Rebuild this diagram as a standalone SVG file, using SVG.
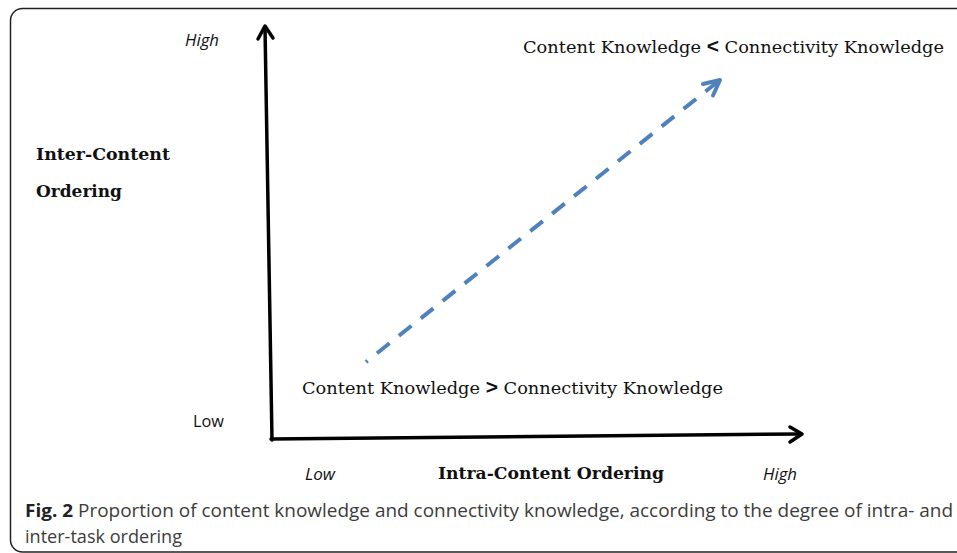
<svg xmlns="http://www.w3.org/2000/svg" width="957" height="553" viewBox="0 0 957 553">
<style>
.serif{font-family:"DejaVu Serif","Liberation Serif",serif;font-size:17px;fill:#111}
.bold{font-family:"DejaVu Serif","Liberation Serif",serif;font-size:17px;font-weight:bold;fill:#111}
.ital{font-family:"Open Sans","Noto Sans",sans-serif;font-size:16px;font-style:italic;fill:#111}
.sans{font-family:"Open Sans","Noto Sans",sans-serif;font-size:16px;fill:#111}
.cap{font-family:"Open Sans","Noto Sans",sans-serif;font-size:18px;fill:#3c3c3c}
.axis{fill:none;stroke:#000;stroke-width:3.5;stroke-linecap:round;stroke-linejoin:round}
.dash{fill:none;stroke:#4F81BD;stroke-width:4}
.head{fill:none;stroke:#4F81BD;stroke-width:4;stroke-linecap:round;stroke-linejoin:round}
.cmp{font-family:"Liberation Sans",sans-serif;font-weight:bold;font-size:20px}
</style>
<rect width="957" height="553" fill="#fff"/>
<rect id="frame" x="10.5" y="8.5" width="1000" height="543.5" rx="12" fill="none" stroke="#222" stroke-width="1.5"/>
<g id="connectors">
  <path class="axis" d="M272,440 L265,27"/>
  <path class="axis" d="M258,39 L265,26 L273,38"/>
  <path class="axis" d="M271,439 L801,434"/>
  <path class="axis" d="M790,427 L802,434 L790,442"/>
  <path class="dash" d="M718,81.5 L366,362" stroke-dasharray="16 12"/>
  <path class="head" d="M703,84 L720,80 L713,95.5"/>
</g>
<g id="y-axis-labels">
  <text class="ital" x="185" y="46" textLength="34" lengthAdjust="spacingAndGlyphs">High</text>
  <text class="bold" x="36" y="160" textLength="134" lengthAdjust="spacingAndGlyphs">Inter-Content</text>
  <text class="bold" x="36" y="197" textLength="86" lengthAdjust="spacingAndGlyphs">Ordering</text>
  <text class="sans" x="193" y="427" textLength="31" lengthAdjust="spacingAndGlyphs">Low</text>
</g>
<g id="x-axis-labels">
  <text class="ital" x="305" y="480" textLength="30" lengthAdjust="spacingAndGlyphs">Low</text>
  <text class="bold" x="438" y="479" textLength="226" lengthAdjust="spacingAndGlyphs">Intra-Content Ordering</text>
  <text class="ital" x="763" y="480" textLength="34" lengthAdjust="spacingAndGlyphs">High</text>
</g>
<g id="label-high">
  <text class="serif" x="523" y="53" textLength="421" lengthAdjust="spacingAndGlyphs">Content Knowledge <tspan class="cmp">&lt;</tspan> Connectivity Knowledge</text>
</g>
<g id="label-low">
  <text class="serif" x="302" y="394" textLength="421" lengthAdjust="spacingAndGlyphs">Content Knowledge <tspan class="cmp">&gt;</tspan> Connectivity Knowledge</text>
</g>
<g id="caption">
  <text class="cap" x="25" y="517" textLength="928" lengthAdjust="spacingAndGlyphs"><tspan font-weight="bold" fill="#222">Fig. 2</tspan> Proportion of content knowledge and connectivity knowledge, according to the degree of intra- and</text>
  <text class="cap" x="25" y="543" textLength="157" lengthAdjust="spacingAndGlyphs">inter-task ordering</text>
</g>
</svg>
